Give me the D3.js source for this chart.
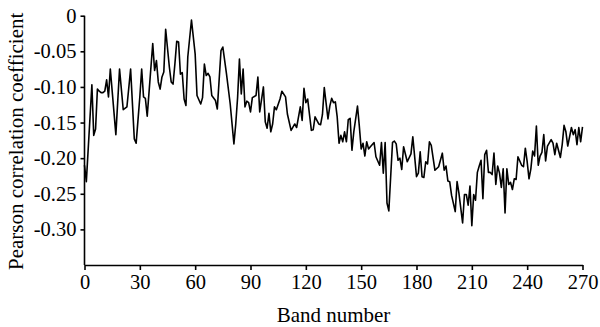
<!DOCTYPE html>
<html><head><meta charset="utf-8">
<script src="https://cdn.jsdelivr.net/npm/d3@7"></script>
<style>body{margin:0;background:#fff}svg{display:block}</style>
</head><body><svg id="c" width="600" height="327"></svg>
<script>
const bands = [0,1,4,5,6,7,8,9,10,11,12,13,14,17,19,21,23,25,27,28,30,31,32,33,34,37,38,39,40,41,42,43,44,46,47,48,49,50,51,52,53,54,55,56,58,60,61,63,64,65,66,67,68,69,71,72,74,75,77,79,81,82,83,84,85,86,87,88,89,90,91,93,94,95,97,98,99,100,101,102,103,104,106,107,109,110,112,114,115,117,118,119,120,121,123,124,125,127,128,129,130,132,133,134,135,136,137,138,139,140,141,142,143,144,145,146,148,149,150,151,152,153,154,155,157,158,160,161,162,163,164,165,167,168,169,170,171,172,173,175,177,178,180,181,182,183,184,185,186,187,188,190,192,194,195,196,197,198,199,201,202,203,205,206,207,208,209,210,211,212,213,214,215,216,217,218,219,220,221,222,223,224,225,226,227,228,229,230,231,232,233,234,235,237,238,239,240,241,242,243,244,245,246,247,248,249,250,251,253,254,255,256,258,259,260,261,262,264,265,266,267,268,269,270];
const values = [-0.21,-0.233,-0.097,-0.168,-0.159,-0.103,-0.106,-0.108,-0.108,-0.106,-0.09,-0.114,-0.075,-0.167,-0.075,-0.132,-0.128,-0.075,-0.173,-0.179,-0.114,-0.075,-0.114,-0.116,-0.141,-0.039,-0.077,-0.063,-0.093,-0.103,-0.086,-0.079,-0.019,-0.072,-0.093,-0.096,-0.068,-0.036,-0.037,-0.082,-0.08,-0.117,-0.126,-0.058,-0.006,-0.054,-0.112,-0.124,-0.115,-0.068,-0.084,-0.081,-0.086,-0.112,-0.119,-0.131,-0.049,-0.044,-0.082,-0.124,-0.18,-0.152,-0.115,-0.061,-0.11,-0.075,-0.128,-0.12,-0.122,-0.135,-0.115,-0.112,-0.086,-0.135,-0.1,-0.149,-0.158,-0.137,-0.163,-0.152,-0.128,-0.132,-0.117,-0.106,-0.114,-0.138,-0.161,-0.152,-0.157,-0.128,-0.147,-0.102,-0.122,-0.117,-0.161,-0.16,-0.142,-0.152,-0.153,-0.139,-0.101,-0.145,-0.127,-0.116,-0.122,-0.121,-0.142,-0.179,-0.168,-0.177,-0.163,-0.177,-0.146,-0.144,-0.189,-0.163,-0.127,-0.155,-0.187,-0.179,-0.197,-0.177,-0.187,-0.184,-0.178,-0.198,-0.21,-0.178,-0.221,-0.178,-0.263,-0.274,-0.178,-0.176,-0.18,-0.203,-0.2,-0.216,-0.184,-0.205,-0.194,-0.17,-0.226,-0.221,-0.191,-0.226,-0.227,-0.205,-0.208,-0.177,-0.182,-0.217,-0.212,-0.193,-0.217,-0.211,-0.232,-0.233,-0.252,-0.275,-0.233,-0.249,-0.291,-0.251,-0.251,-0.266,-0.239,-0.295,-0.251,-0.259,-0.22,-0.211,-0.203,-0.257,-0.195,-0.189,-0.22,-0.22,-0.223,-0.193,-0.237,-0.211,-0.221,-0.241,-0.215,-0.277,-0.215,-0.237,-0.234,-0.244,-0.229,-0.23,-0.198,-0.21,-0.212,-0.186,-0.205,-0.229,-0.215,-0.19,-0.197,-0.155,-0.21,-0.197,-0.192,-0.167,-0.204,-0.183,-0.174,-0.179,-0.195,-0.179,-0.199,-0.181,-0.154,-0.163,-0.183,-0.157,-0.167,-0.16,-0.181,-0.157,-0.177,-0.156];
const xTicks = [0,30,60,90,120,150,180,210,240,270];
const yTicks = [0,-0.05,-0.10,-0.15,-0.20,-0.25,-0.30];
const yTickLabels = ["0","-0.05","-0.10","-0.15","-0.20","-0.25","-0.30"];
const xTitle = "Band number";
const yTitle = "Pearson correlation coefficient";

const svg = d3.select("#c");
const m = {l:84.5, r:582.5, t:15.7, b:265};
const x = d3.scaleLinear().domain([0,270]).range([m.l, m.r]);
const y = d3.scaleLinear().domain([-0.35,0]).range([m.b, m.t]);
const font = "'Liberation Serif','Times New Roman',serif";

const xa = svg.append("g").attr("transform",`translate(0,${m.b})`)
  .call(d3.axisBottom(x).tickValues(xTicks).tickSize(5).tickPadding(4).tickSizeOuter(0).tickFormat(d3.format("d")));
const ya = svg.append("g").attr("transform",`translate(${m.l},0)`)
  .call(d3.axisLeft(y).tickValues(yTicks).tickSize(4).tickPadding(4).tickSizeOuter(0).tickFormat((d,i)=>yTickLabels[i]));
[xa,ya].forEach(a=>{
  a.select(".domain").attr("stroke","#000").attr("stroke-width",1.6);
  a.selectAll(".tick line").attr("stroke","#000").attr("stroke-width",1.6);
  a.selectAll("text").attr("fill","#000").style("font-family",font).style("font-size","20.5px");
});
ya.select(".domain").attr("d",`M0,${m.t}V${m.b}`);

const line = d3.line().x((d,i)=>x(bands[i])).y(d=>y(d));
svg.append("path").datum(values).attr("d",line)
  .attr("fill","none").attr("stroke","#000").attr("stroke-width",1.6).attr("stroke-linejoin","round");

svg.append("text").attr("x",(m.l+m.r)/2).attr("y",322).attr("text-anchor","middle")
  .style("font-family",font).style("font-size","21px").text(xTitle);
svg.append("text").attr("transform",`translate(23,${(m.t+m.b)/2+1}) rotate(-90)`).attr("text-anchor","middle")
  .style("font-family",font).style("font-size","21px").text(yTitle);
</script></body></html>
